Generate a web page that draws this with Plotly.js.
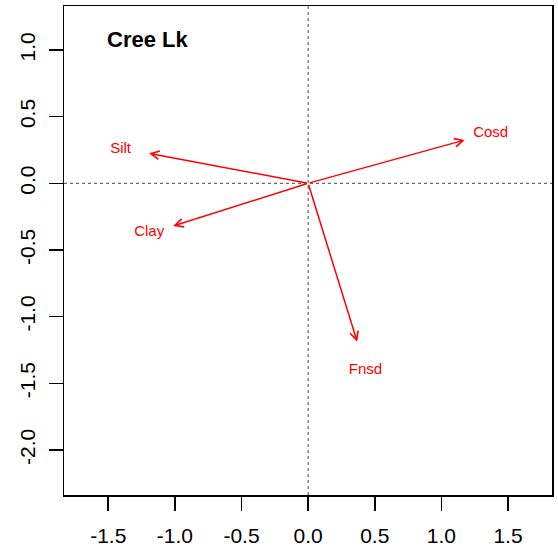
<!DOCTYPE html>
<html>
<head>
<meta charset="utf-8">
<script src="https://cdn.plot.ly/plotly-3.0.1.min.js"></script>
<style>html,body{margin:0;padding:0;background:#fff;}#chart{width:558px;height:555px;}</style>
</head>
<body>
<div id="chart"></div>
<script>
const chartTitle = 'Cree Lk';
const variables = ['Cosd', 'Silt', 'Clay', 'Fnsd'];
const arrowX = [1.175, -1.193, -1.013, 0.368];
const arrowY = [0.325, 0.225, -0.320, -1.188];
const labelX = [1.37, -1.407, -1.193, 0.43];
const labelY = [0.375, 0.255, -0.37, -1.40];
const xTickVals = [-1.5, -1.0, -0.5, 0.0, 0.5, 1.0, 1.5];
const xTickText = ['-1.5', '-1.0', '-0.5', '0.0', '0.5', '1.0', '1.5'];
const yTickVals = [-2.0, -1.5, -1.0, -0.5, 0.0, 0.5, 1.0];
const yTickText = ['-2.0', '-1.5', '-1.0', '-0.5', '0.0', '0.5', '1.0'];

const FONT = 'Liberation Sans, Arial, sans-serif';

const labelTrace = {
  type: 'scatter',
  mode: 'text',
  x: labelX,
  y: labelY,
  text: variables,
  textposition: 'middle center',
  textfont: {family: FONT, size: 15, color: '#ff0000'},
  hoverinfo: 'skip',
  showlegend: false
};

const arrows = variables.map((v, i) => ({
  x: arrowX[i], y: arrowY[i], xref: 'x', yref: 'y',
  ax: 0, ay: 0, axref: 'x', ayref: 'y',
  text: '', showarrow: true,
  arrowhead: 5, arrowsize: 1.1, arrowwidth: 1.5, arrowcolor: '#ff0000',
  standoff: 0, startstandoff: 0
}));

const axisCommon = {
  showgrid: false, zeroline: false,
  showline: true, mirror: true, linecolor: '#000', linewidth: 1.5,
  ticks: 'outside', ticklen: 14, tickwidth: 1.5, tickcolor: '#000',
  tickmode: 'array',
  tickfont: {family: FONT, size: 21, color: '#000'},
  fixedrange: true
};

const layout = {
  width: 558, height: 555,
  margin: {l: 64, r: 6, t: 6, b: 60},
  paper_bgcolor: '#fff', plot_bgcolor: '#fff',
  showlegend: false,
  title: {
    text: chartTitle,
    font: {family: FONT, size: 22, color: '#000', weight: 'bold'},
    x: 107 / 558, xanchor: 'left', xref: 'container',
    y: 1 - 39 / 555, yanchor: 'middle', yref: 'container'
  },
  xaxis: Object.assign({}, axisCommon, {
    range: [-1.832, 1.83],
    tickvals: xTickVals, ticktext: xTickText,
    ticklabelstandoff: 7
  }),
  yaxis: Object.assign({}, axisCommon, {
    range: [-2.338, 1.330],
    tickvals: yTickVals, ticktext: yTickText,
    tickangle: -90,
    ticklabelstandoff: 5
  }),
  shapes: [
    {type: 'line', xref: 'x', yref: 'paper', x0: 0, x1: 0, y0: 0, y1: 1,
     line: {color: '#444', width: 1, dash: '3px,3px'}, layer: 'below'},
    {type: 'line', xref: 'paper', yref: 'y', x0: 0, x1: 1, y0: 0, y1: 0,
     line: {color: '#444', width: 1, dash: '3px,3px'}, layer: 'below'}
  ],
  annotations: arrows
};

Plotly.newPlot('chart', [labelTrace], layout, {displayModeBar: false, staticPlot: true});
</script>
</body>
</html>
